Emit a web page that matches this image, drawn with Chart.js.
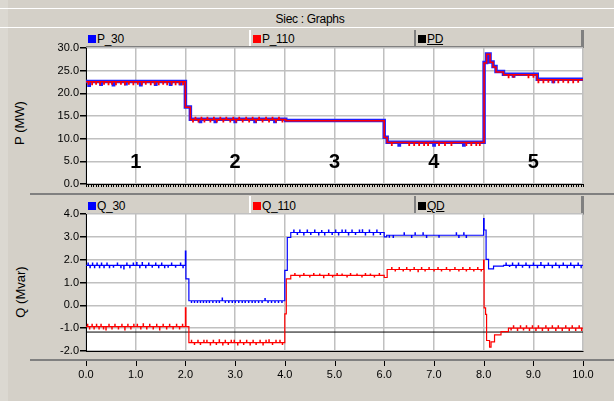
<!DOCTYPE html>
<html>
<head>
<meta charset="utf-8">
<script src="https://cdn.jsdelivr.net/npm/chart.js"></script>
<style>
  body { margin: 0; width: 614px; height: 401px; background: #d4d0c8; position: relative; overflow: hidden;
         font-family: 'Liberation Sans', Arial, sans-serif; color: #000; }
  .line { position: absolute; }
  .tab { position: absolute; font-size: 12px; line-height: 16px; height: 16px; letter-spacing: -0.3px; white-space: nowrap; }
  .sw { display: inline-block; width: 8px; height: 8px; margin-right: 1px; vertical-align: -0px; }
  .ytitle { position: absolute; font-size: 13px; white-space: nowrap; transform: translate(-50%, -50%) rotate(-90deg); }
  canvas { position: absolute; left: 0; }
</style>
</head>
<body>
<!-- window frame -->
<div class="line" style="left:0;top:0;width:8px;height:401px;background:#dbd8d1"></div>
<div class="line" style="left:0;top:8px;width:614px;height:1px;background:#fff"></div>
<div class="line" style="left:0;top:27px;width:614px;height:1px;background:#fff"></div>
<div class="tab" style="left:0;width:620px;top:11px;text-align:center">Siec : Graphs</div>

<!-- top legend tabs -->
<div class="line" style="left:249px;top:30px;width:2px;height:16px;background:#fff"></div>
<div class="line" style="left:414px;top:30px;width:2px;height:16px;background:#808080"></div>
<div class="line" style="left:581px;top:30px;width:3px;height:18px;background:#808080"></div>
<div class="line" style="left:86px;top:46px;width:497px;height:2px;background:#808080"></div>
<div class="tab" style="left:88px;top:31px"><span class="sw" style="background:#0000ff"></span>P_30</div>
<div class="tab" style="left:253px;top:31px"><span class="sw" style="background:#ff0000"></span>P_110</div>
<div class="tab" style="left:418px;top:31px"><span class="sw" style="background:#000"></span><u>PD</u></div>

<div class="line" style="left:30px;top:193px;width:584px;height:2px;background:#808080"></div>

<!-- bottom legend tabs -->
<div class="line" style="left:249px;top:196px;width:2px;height:19px;background:#fff"></div>
<div class="line" style="left:414px;top:196px;width:2px;height:19px;background:#808080"></div>
<div class="line" style="left:581px;top:196px;width:3px;height:19px;background:#808080"></div>
<div class="tab" style="left:88px;top:198px"><span class="sw" style="background:#0000ff"></span>Q_30</div>
<div class="tab" style="left:253px;top:198px"><span class="sw" style="background:#ff0000"></span>Q_110</div>
<div class="tab" style="left:418px;top:198px"><span class="sw" style="background:#000"></span><u>QD</u></div>

<div class="line" style="left:30px;top:359px;width:584px;height:2px;background:#808080"></div>

<div class="ytitle" style="left:19px;top:123px">P (MW)</div>
<div class="ytitle" style="left:20px;top:292px">Q (Mvar)</div>

<canvas id="pChart" width="614" height="160" style="top:40px"></canvas>
<canvas id="qChart" width="614" height="201" style="top:200px"></canvas>

<script>
// time axis (s)
const timeMin = 0;
const timeMax = 10;

// step levels: [time, value] - value holds from that time on
const p30Steps = [[0, 22.6], [2.0, 17.0], [2.1, 14.3], [4.02, 14.0], [6.0, 10.3], [6.06, 9.2],
  [8.01, 26.8], [8.06, 28.7], [8.13, 26.9], [8.19, 25.9], [8.25, 24.8], [8.4, 24.2], [9.08, 23.1]];
const p110Steps = [[0, 22.55], [2.0, 16.95], [2.1, 14.25], [4.02, 13.95], [6.0, 10.25], [6.06, 9.15],
  [8.01, 26.7], [8.06, 28.6], [8.13, 26.85], [8.19, 25.8], [8.25, 24.7], [8.4, 24.1], [9.08, 23.0]];
const pdSteps = [];

const q30Steps = [[0, 1.75], [2.0, 2.38], [2.01, 1.16], [2.07, 0.2], [4.0, 1.53], [4.05, 2.97], [4.12, 3.19],
  [6.0, 3.0], [6.05, 3.07], [8.0, 3.8], [8.01, 3.3], [8.05, 2.01], [8.1, 1.6], [8.2, 1.72], [8.4, 1.75]];
const q110Steps = [[0, -0.93], [2.0, -0.11], [2.01, -0.93], [2.07, -1.63], [4.0, -0.37], [4.03, 1.16], [4.12, 1.31],
  [6.0, 1.22], [6.06, 1.57], [8.0, 1.98], [8.01, -0.11], [8.04, -0.4], [8.06, -1.54], [8.12, -1.83],
  [8.15, -1.6], [8.22, -1.29], [8.35, -1.15], [8.5, -1.0]];
const qdSteps = [[0, -1.17]];

// short sample spikes: [time, offset from level]
const p30Spikes = [[0.06, -0.8], [0.3, -0.6], [0.55, -0.7], [0.8, -0.5], [1.1, -0.7], [1.4, -0.6], [1.7, -0.6], [1.9, -0.5],
  [2.3, -0.5], [2.6, -0.5], [3.0, -0.5], [3.4, -0.5], [3.8, -0.5], [6.3, -0.6], [7.0, -0.6], [7.6, -0.6], [8.6, -0.4], [9.4, -0.5]];
const p110Spikes = [[0.05, -0.5], [0.12, -0.6], [0.2, -0.5], [0.28, -0.6], [0.36, -0.5], [0.45, -0.6], [0.52, -0.5], [0.6, -0.6],
  [0.7, -0.5], [0.78, -0.6], [0.86, -0.5], [0.95, -0.6], [1.04, -0.5], [1.12, -0.6], [1.2, -0.5], [1.3, -0.6], [1.38, -0.5],
  [1.46, -0.6], [1.55, -0.5], [1.63, -0.6], [1.72, -0.5], [1.8, -0.6], [1.88, -0.5], [1.95, -0.6],
  [2.15, -0.5], [2.2, 0.4], [2.26, -0.5], [2.32, 0.4], [2.38, -0.5], [2.44, 0.4], [2.5, -0.5], [2.57, 0.4], [2.63, -0.5],
  [2.7, 0.4], [2.76, -0.5], [2.82, 0.4], [2.9, -0.5], [2.96, 0.4], [3.02, -0.5], [3.08, 0.4], [3.15, -0.5], [3.22, 0.4],
  [3.28, -0.5], [3.35, 0.4], [3.42, -0.5], [3.48, 0.4], [3.55, -0.5], [3.62, 0.4], [3.68, -0.5], [3.75, 0.4], [3.82, -0.5],
  [3.88, 0.4], [3.95, -0.5],
  [6.15, -0.6], [6.5, -0.6], [6.6, -0.6], [6.7, -0.6], [6.8, -0.6], [6.88, -0.6], [7.1, -0.6], [7.22, -0.6], [7.35, -0.6],
  [7.65, -0.6], [7.75, -0.6], [7.85, -0.6], [7.92, -0.6],
  [8.5, -0.6], [8.6, -0.5], [8.9, -0.6], [9.0, -0.5], [9.1, -0.6], [9.2, -0.6], [9.3, -0.5], [9.4, -0.6], [9.5, -0.6],
  [9.6, -0.5], [9.7, -0.6], [9.8, -0.6], [9.9, -0.5]];

const q30Spikes = [[0.04, .1], [0.08, -.1], [0.13, .1], [0.17, -.1], [0.22, .1], [0.27, -.1], [0.31, .1], [0.36, -.1],
  [0.42, .1], [0.47, -.1], [0.55, -.08], [0.63, .1], [0.7, -.1], [0.76, -.15], [0.82, .1], [0.88, -.1], [0.95, .1],
  [1.02, .12], [1.08, -.1], [1.13, .12], [1.2, -.1], [1.26, .1], [1.33, -.08], [1.4, .1], [1.46, -.1], [1.52, .1],
  [1.58, -.1], [1.65, -.08], [1.72, .1], [1.8, -.08], [1.9, .1], [1.95, -.1],
  [2.12, -.07], [2.18, -.07], [2.24, -.07], [2.3, -.07], [2.36, -.07], [2.42, -.07], [2.48, -.07], [2.55, -.07],
  [2.62, -.07], [2.68, -.07], [2.74, .12], [2.8, -.07], [2.87, -.07], [2.94, -.07], [3.0, -.07], [3.07, -.07],
  [3.14, -.07], [3.2, -.07], [3.27, -.07], [3.34, -.07], [3.4, -.07], [3.47, -.07], [3.54, -.07], [3.6, .1],
  [3.66, -.07], [3.73, -.07], [3.8, -.07], [3.87, -.07], [3.94, -.07],
  [4.18, .1], [4.25, -.08], [4.3, .1], [4.38, -.1], [4.45, .1], [4.52, -.08], [4.6, .1], [4.68, -.1], [4.74, .08],
  [4.8, -.1], [4.88, .1], [4.95, -.08], [5.02, .1], [5.08, -.1], [5.15, .1], [5.22, .1], [5.28, -.1], [5.35, .1],
  [5.42, -.08], [5.5, .1], [5.56, .12], [5.62, -.1], [5.7, .1], [5.78, -.1], [5.85, .1], [5.92, -.08],
  [6.1, -.08], [6.18, -.1], [6.4, .1], [6.55, -.1], [6.62, .1], [6.78, .1], [6.85, -.1], [7.1, -.08], [7.45, .1],
  [7.5, -.1], [7.6, .1], [7.65, -.1],
  [8.45, .1], [8.52, -.05], [8.58, .1], [8.65, -.1], [8.7, .1], [8.78, -.08], [8.85, .1], [8.92, -.1], [9.0, .1],
  [9.08, -.1], [9.15, .12], [9.22, -.1], [9.3, .1], [9.38, -.1], [9.45, .1], [9.52, -.1], [9.6, .1], [9.68, -.1],
  [9.75, .1], [9.82, -.1], [9.9, .1], [9.96, -.1]];
const q110Spikes = [[0.03, .1], [0.07, -.1], [0.12, .1], [0.16, -.1], [0.21, .1], [0.26, -.1], [0.3, .1], [0.35, -.1],
  [0.4, -.15], [0.46, .1], [0.52, -.1], [0.58, .1], [0.65, -.1], [0.72, .1], [0.78, -.15], [0.84, .1], [0.9, -.1],
  [0.96, .1], [1.03, .1], [1.1, -.1], [1.15, .12], [1.22, -.1], [1.28, .1], [1.35, -.1], [1.42, .1], [1.48, -.15],
  [1.55, .1], [1.62, -.1], [1.68, .1], [1.75, -.1], [1.82, .1], [1.88, -.1], [1.94, .1],
  [2.12, .1], [2.18, -.08], [2.25, .1], [2.3, -.08], [2.37, .1], [2.43, .1], [2.5, -.1], [2.56, .1], [2.62, -.08],
  [2.68, .12], [2.75, -.1], [2.8, .1], [2.86, -.08], [2.92, .1], [2.98, .1], [3.05, -.1], [3.1, .1], [3.17, -.08],
  [3.23, .1], [3.3, -.1], [3.36, .1], [3.42, -.08], [3.5, .1], [3.56, -.1], [3.62, .1], [3.68, .12], [3.75, -.08],
  [3.82, .1], [3.9, .1], [3.95, -.08],
  [4.2, .08], [4.3, -.06], [4.38, .08], [4.5, -.06], [4.58, .08], [4.7, .06], [4.78, -.1], [4.88, .08], [4.96, -.06],
  [5.05, .08], [5.15, .06], [5.25, -.06], [5.32, .08], [5.45, .06], [5.55, -.06], [5.62, .08], [5.72, .06],
  [5.8, -.06], [5.9, .08],
  [6.15, .08], [6.22, -.06], [6.3, .08], [6.38, -.06], [6.45, .08], [6.52, -.06], [6.6, .08], [6.68, -.1], [6.75, .08],
  [6.82, -.06], [6.9, .08], [7.0, -.06], [7.08, .08], [7.15, -.06], [7.25, .08], [7.32, -.06], [7.42, .08],
  [7.5, -.06], [7.58, .08], [7.65, -.06], [7.72, .08], [7.8, -.06], [7.88, .08], [7.95, -.06],
  [8.55, -.08], [8.6, .1], [8.68, -.1], [8.74, .1], [8.8, -.08], [8.86, .1], [8.92, -.1], [8.98, .1], [9.05, -.1],
  [9.1, .1], [9.18, -.1], [9.25, .1], [9.3, -.1], [9.38, .1], [9.45, -.1], [9.5, .1], [9.58, -.1], [9.65, .1],
  [9.72, -.1], [9.78, .1], [9.85, -.1], [9.92, .1], [9.97, -.1]];

// phase numbers written in the P plot
const phaseLabels = ['1', '2', '3', '4', '5'];
const phaseTimes = [1, 3, 5, 7, 9];
const phaseLevel = 4.85;

// build the {x, y} points of a step series
function buildSeries(steps, spikes) {
  if (!steps.length) return [];
  const levelAt = t => {
    let v = steps[0][1];
    steps.forEach(([s, val]) => { if (s <= t) v = val; });
    return v;
  };
  const pts = steps.map(([t, v]) => ({ x: t, y: v }));
  spikes.forEach(([t, dv]) => {
    const base = levelAt(t);
    pts.push({ x: t, y: base + dv }, { x: t + 0.006, y: base });
  });
  pts.sort((a, b) => a.x - b.x);
  pts.push({ x: timeMax, y: steps[steps.length - 1][1] });
  return pts;
}

Chart.defaults.font.family = "'Liberation Sans', Arial, sans-serif";
Chart.defaults.font.size = 11;
Chart.defaults.color = '#000';

const plotBg = {
  id: 'plotBg',
  beforeDraw(chart) {
    const { ctx, chartArea: a } = chart;
    ctx.save();
    ctx.fillStyle = '#fff';
    ctx.fillRect(a.left, a.top, a.right - a.left, a.bottom - a.top);
    ctx.restore();
  }
};

// dense small ticks under the P plot
const minorTicks = {
  id: 'minorTicks',
  afterDraw(chart) {
    const { ctx, chartArea: a } = chart;
    const x = chart.scales.x;
    ctx.save();
    ctx.strokeStyle = '#000';
    ctx.lineWidth = 1;
    ctx.beginPath();
    for (let i = 0; i <= 200; i++) {
      const px = Math.round(x.getPixelForValue(i * 0.05)) + 0.5;
      ctx.moveTo(px, a.bottom);
      ctx.lineTo(px, a.bottom + 3);
    }
    ctx.stroke();
    ctx.restore();
  }
};

const phaseText = {
  id: 'phaseText',
  afterDatasetsDraw(chart) {
    const { ctx } = chart;
    const x = chart.scales.x, y = chart.scales.y;
    ctx.save();
    ctx.font = "bold 20px 'Liberation Sans', Arial, sans-serif";
    ctx.fillStyle = '#000';
    ctx.textAlign = 'center';
    ctx.textBaseline = 'middle';
    phaseLabels.forEach((lab, i) => ctx.fillText(lab, x.getPixelForValue(phaseTimes[i]), y.getPixelForValue(phaseLevel)));
    ctx.restore();
  }
};

// tick marks on the detached time axis line
const timeTicks = {
  id: 'timeTicks',
  afterDraw(chart) {
    const { ctx, chartArea: a } = chart;
    const x = chart.scales.x;
    ctx.save();
    ctx.strokeStyle = '#000';
    ctx.lineWidth = 1;
    ctx.beginPath();
    x.ticks.forEach(t => {
      const px = Math.round(x.getPixelForValue(t.value)) + 0.5;
      ctx.moveTo(px, a.bottom + 10);
      ctx.lineTo(px, a.bottom + 15);
    });
    ctx.stroke();
    ctx.restore();
  }
};

function yAxis(min, max, step) {
  return {
    min, max,
    afterFit: s => { s.width = 86; },
    ticks: { stepSize: step, padding: 1, callback: v => v.toFixed(1) },
    grid: { color: '#c0c0c0', lineWidth: 1.5, tickLength: 6, tickColor: '#000' },
    border: { color: '#000', width: 1 }
  };
}

new Chart(document.getElementById('pChart'), {
  type: 'line',
  data: {
    datasets: [
      { label: 'P_30', data: buildSeries(p30Steps, p30Spikes), borderColor: '#2020ff', borderWidth: 3.5, order: 1 },
      { label: 'P_110', data: buildSeries(p110Steps, p110Spikes), borderColor: '#ff0000', borderWidth: 1.5, order: 0 },
      { label: 'PD', data: buildSeries(pdSteps, []), borderColor: '#000', borderWidth: 1, order: 2 }
    ]
  },
  options: {
    responsive: false,
    animation: false,
    devicePixelRatio: 1,
    layout: { padding: { top: 8, right: 31, left: 0, bottom: 0 } },
    elements: { point: { radius: 0 }, line: { stepped: true, borderJoinStyle: 'miter' } },
    plugins: { legend: { display: false }, tooltip: { enabled: false } },
    scales: {
      x: {
        type: 'linear', min: timeMin, max: timeMax,
        afterFit: s => { s.height = 16; },
        ticks: { display: false, stepSize: 1 },
        grid: { color: '#c0c0c0', lineWidth: 1.5, drawTicks: false },
        border: { color: '#000', width: 1 }
      },
      y: yAxis(0, 30, 5)
    }
  },
  plugins: [plotBg, minorTicks, phaseText]
});

new Chart(document.getElementById('qChart'), {
  type: 'line',
  data: {
    datasets: [
      { label: 'Q_30', data: buildSeries(q30Steps, q30Spikes), borderColor: '#0000ff', borderWidth: 1.2 },
      { label: 'Q_110', data: buildSeries(q110Steps, q110Spikes), borderColor: '#ff0000', borderWidth: 1.2 },
      { label: 'QD', data: buildSeries(qdSteps, []), borderColor: '#000', borderWidth: 1 }
    ]
  },
  options: {
    responsive: false,
    animation: false,
    devicePixelRatio: 1,
    layout: { padding: { top: 14, right: 31, left: 0, bottom: 0 } },
    elements: { point: { radius: 0 }, line: { stepped: true, borderJoinStyle: 'miter' } },
    plugins: { legend: { display: false }, tooltip: { enabled: false } },
    scales: {
      x: {
        type: 'linear', min: timeMin, max: timeMax,
        afterFit: s => { s.height = 50; },
        ticks: { stepSize: 1, padding: 17, maxRotation: 0, callback: v => v.toFixed(1) },
        grid: { color: '#c0c0c0', lineWidth: 1.5, drawTicks: false },
        border: { color: '#000', width: 1 }
      },
      y: yAxis(-2, 4, 1)
    }
  },
  plugins: [plotBg, timeTicks]
});
</script>
</body>
</html>
